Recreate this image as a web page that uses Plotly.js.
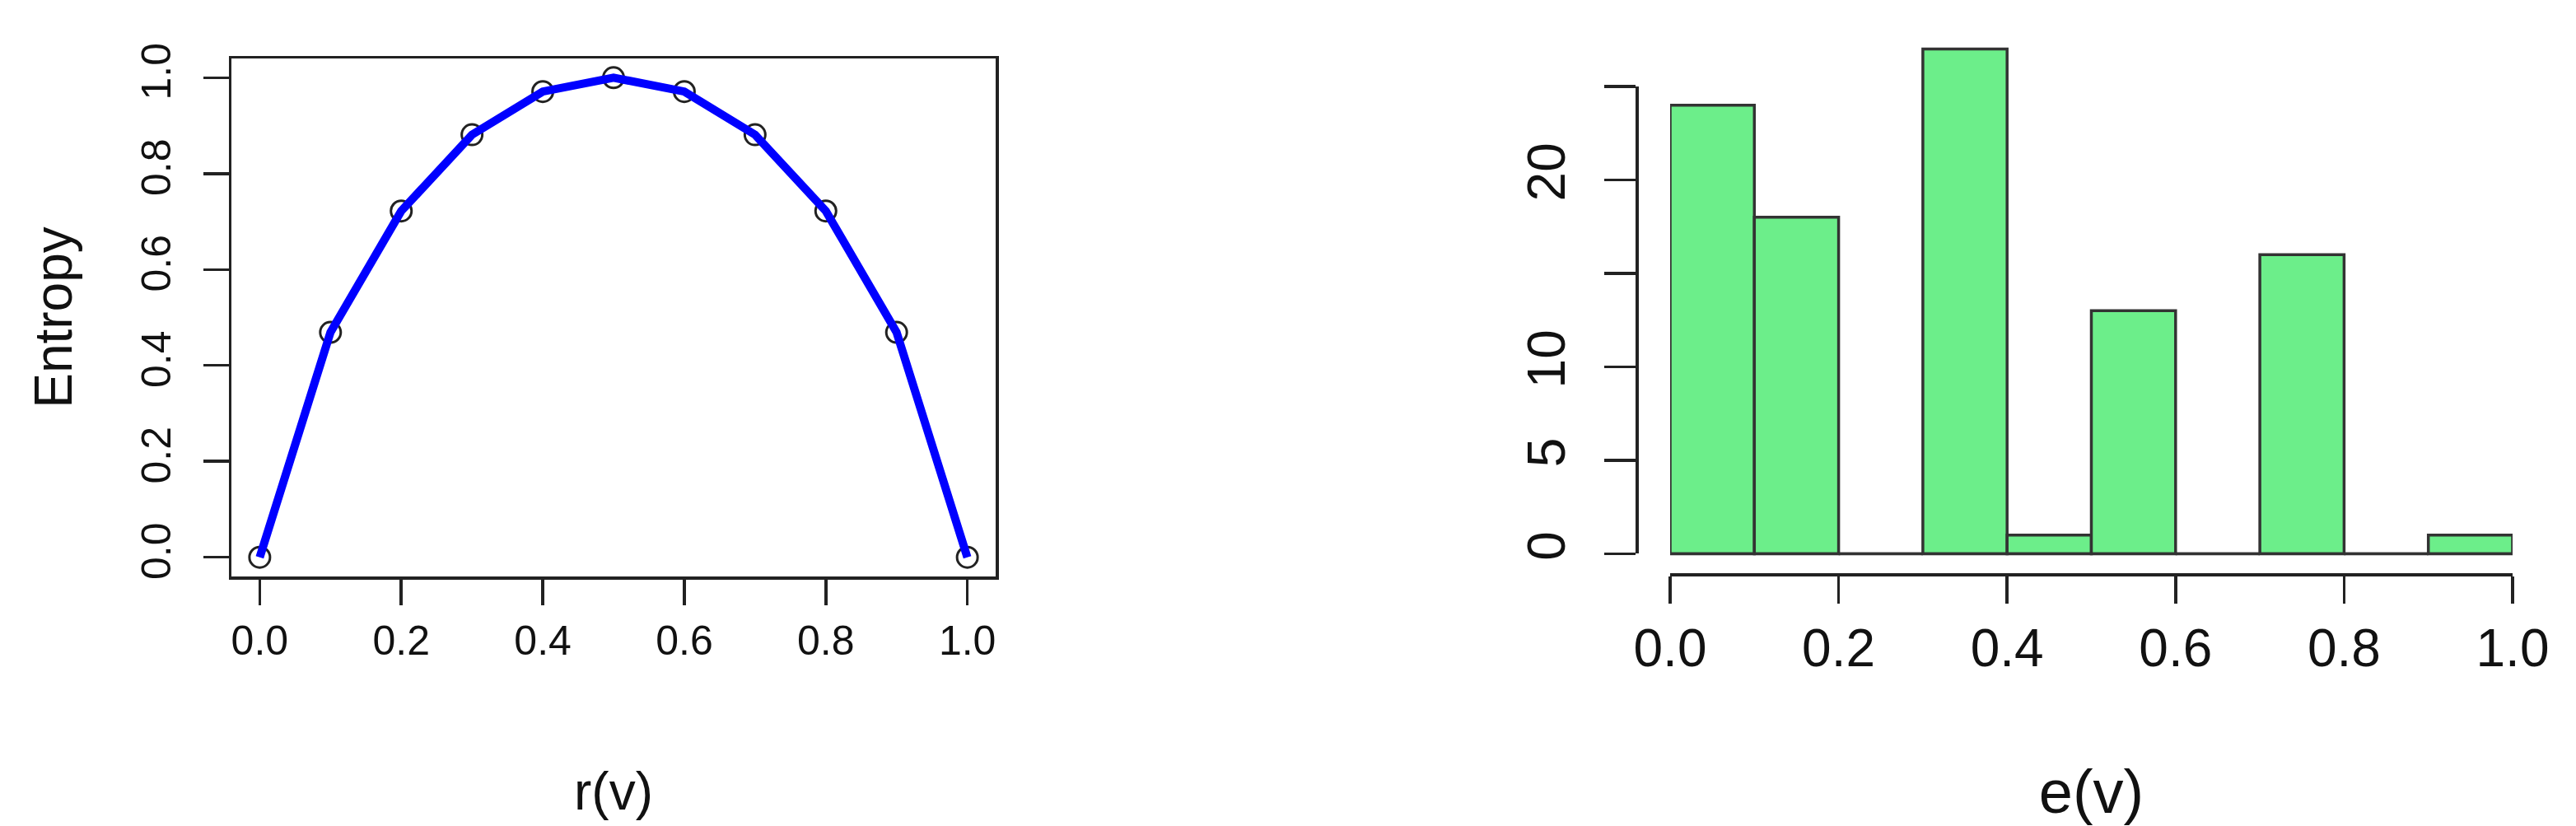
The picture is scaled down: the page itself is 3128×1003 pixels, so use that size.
<!DOCTYPE html>
<html><head><meta charset="utf-8">
<script src="https://cdn.plot.ly/plotly-3.0.1.min.js"></script>
<style>html,body{margin:0;padding:0;background:#fff}#chart{width:3128px;height:1003px}</style>
</head><body><div id="chart"></div>
<script>
// ---- data ----
const rValues = [0, 0.1, 0.2, 0.3, 0.4, 0.5, 0.6, 0.7, 0.8, 0.9, 1.0];
const entropyValues = [0, 0.469, 0.722, 0.881, 0.971, 1.0, 0.971, 0.881, 0.722, 0.469, 0];
const rTicks = [0, 0.2, 0.4, 0.6, 0.8, 1.0];
const entropyTicks = [0, 0.2, 0.4, 0.6, 0.8, 1.0];
const eBreaks = [0, 0.1, 0.2, 0.3, 0.4, 0.5, 0.6, 0.7, 0.8, 0.9, 1.0];
const eCounts = [24, 18, 0, 27, 1, 13, 0, 16, 0, 1];
const eTicks = [0, 0.2, 0.4, 0.6, 0.8, 1.0];
const countTicks = [0, 5, 10, 15, 20, 25];
const countTickText = ['0', '5', '10', '', '20', ''];

// ---- layout helpers ----
const W = 3128, H = 1003;
const FONT = '"Liberation Sans", Arial, sans-serif';
const INK = '#222222';
const px = v => v / W, py = v => 1 - v / H;

const binMid = eCounts.map((c, i) => (eBreaks[i] + eBreaks[i + 1]) / 2);
const binW = eCounts.map((c, i) => eBreaks[i + 1] - eBreaks[i]);
const cMax = Math.max(...eCounts);
const cRange = [-0.04 * cMax, 1.04 * cMax];
const histYDom = [py(697), py(35)];
const mapY = v => histYDom[0] + (v - cRange[0]) / (cRange[1] - cRange[0]) * (histYDom[1] - histYDom[0]);
const countAxisDom = [mapY(countTicks[0]), mapY(countTicks[countTicks.length - 1])];

const traces = [
  { x: rValues, y: entropyValues, type: 'scatter', mode: 'markers', xaxis: 'x', yaxis: 'y',
    marker: { symbol: 'circle-open', size: 25, color: INK, line: { width: 3, color: INK } },
    hoverinfo: 'skip', showlegend: false },
  { x: rValues, y: entropyValues, type: 'scatter', mode: 'lines', xaxis: 'x', yaxis: 'y',
    line: { color: '#0000FF', width: 10 }, showlegend: false },
  { x: binMid, y: eCounts, width: binW, type: 'bar', xaxis: 'x2', yaxis: 'y2',
    marker: { color: '#6CEE8A', line: { color: '#333333', width: 3.5 } }, showlegend: false },
  { x: [eBreaks[0], eBreaks[eBreaks.length - 1]], y: [0, 0], type: 'scatter', mode: 'lines',
    xaxis: 'x2', yaxis: 'y3', cliponaxis: false,
    line: { color: '#333333', width: 3.5 }, hoverinfo: 'skip', showlegend: false }
];

const tickFont = size => ({ family: FONT, size: size, color: '#111' });
const common = { showgrid: false, zeroline: false, showline: true, linecolor: INK, linewidth: 3.5,
  ticks: 'outside', tickcolor: INK, tickwidth: 3.5 };

const layout = {
  width: W, height: H, autosize: false,
  margin: { l: 0, r: 0, t: 0, b: 0, pad: 0 },
  paper_bgcolor: '#fff', plot_bgcolor: 'rgba(0,0,0,0)',
  font: { family: FONT, color: '#111' },
  showlegend: false,
  xaxis: Object.assign({}, common, {
    domain: [px(281), px(1209)], range: [-0.04, 1.04], anchor: 'y', mirror: true,
    tickvals: rTicks, tickformat: '.1f', ticklen: 31, tickfont: tickFont(50),
    title: { text: 'r(v)', font: { family: FONT, size: 64, color: '#111' }, standoff: 134 }
  }),
  yaxis: Object.assign({}, common, {
    domain: [py(700), py(71)], range: [-0.04, 1.04], anchor: 'x', mirror: true,
    tickvals: entropyTicks, tickformat: '.1f', ticklen: 31, tickangle: -90, tickfont: tickFont(50),
    ticklabelstandoff: 20,
    title: { text: 'Entropy', font: { family: FONT, size: 64, color: '#111' }, standoff: 54 }
  }),
  xaxis2: Object.assign({}, common, {
    domain: [px(2028), px(3051)], range: [eBreaks[0], eBreaks[eBreaks.length - 1]],
    anchor: 'free', position: histYDom[0],
    tickvals: eTicks, tickformat: '.1f', ticklen: 33, tickfont: tickFont(64),
    title: { text: 'e(v)', font: { family: FONT, size: 74, color: '#111' }, standoff: 130 }
  }),
  yaxis2: { domain: histYDom, range: cRange, anchor: 'x2', visible: false, fixedrange: true },
  yaxis3: Object.assign({}, common, {
    domain: countAxisDom, range: [countTicks[0], countTicks[countTicks.length - 1]],
    anchor: 'free', position: px(1987),
    tickvals: countTicks, ticktext: countTickText, ticklen: 38, tickangle: -90, tickfont: tickFont(64),
    ticklabelstandoff: 22
  })
};

Plotly.newPlot('chart', traces, layout, { staticPlot: true, displayModeBar: false });
</script></body></html>
